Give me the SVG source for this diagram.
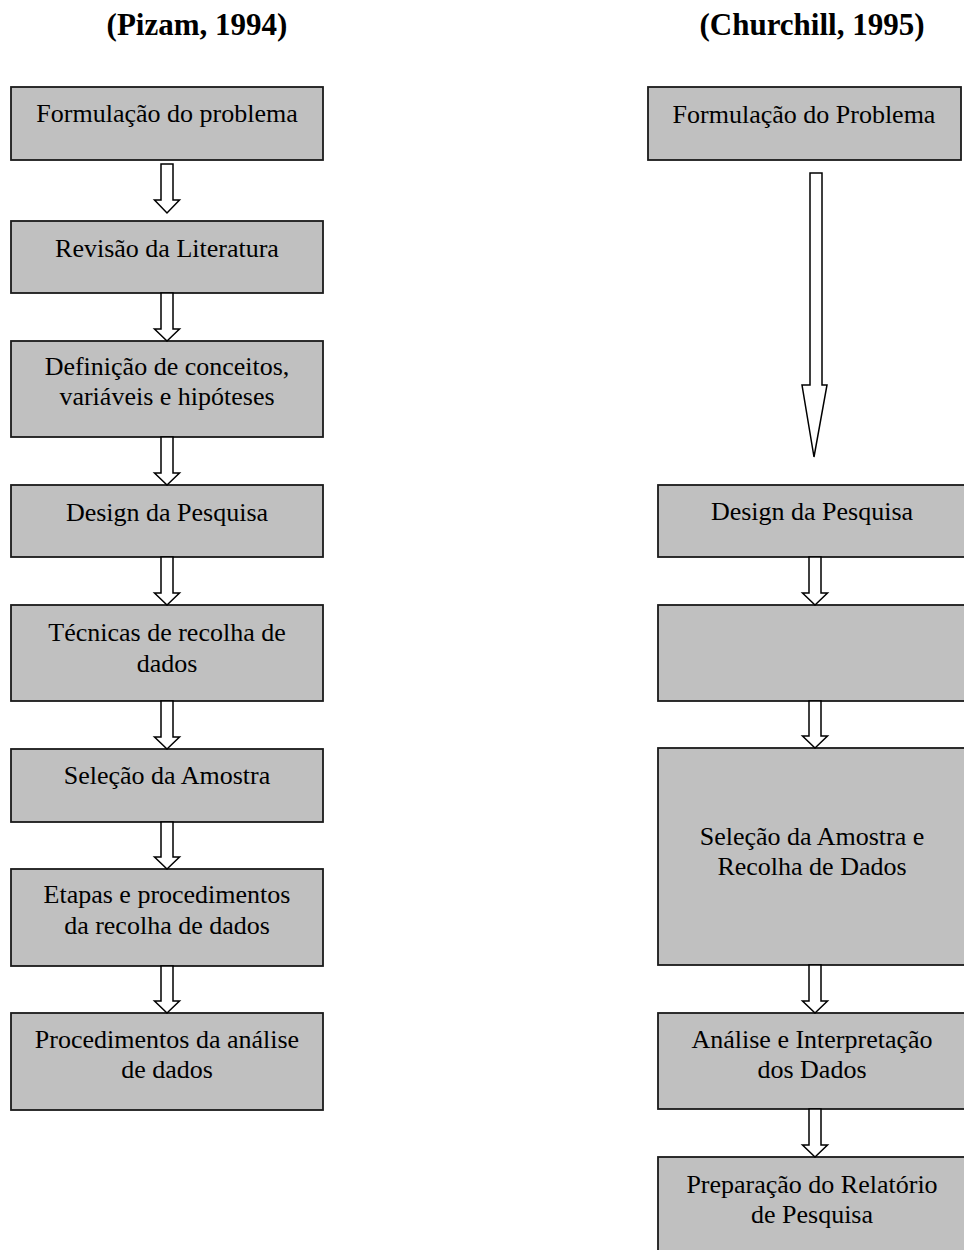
<svg xmlns="http://www.w3.org/2000/svg" width="964" height="1250" viewBox="0 0 964 1250">
<style>
.box{fill:#c0c0c0;stroke:#1a1a1a;stroke-width:1.8}
.t{font-size:26px;fill:#000;text-anchor:middle}
.h{font-size:31px;font-weight:bold;fill:#000;text-anchor:middle}
.arr{fill:#fff;stroke:#000;stroke-width:1.5;stroke-linejoin:miter}
</style>
<rect width="964" height="1250" fill="#fff"/>
<g font-family="'Liberation Serif', 'Times New Roman', 'DejaVu Serif', serif">
<text class="h" x="197" y="35">(Pizam, 1994)</text>
<text class="h" x="812" y="35">(Churchill, 1995)</text>

<g id="L1"><rect class="box" x="11" y="87" width="312" height="73"/><text class="t" x="167" y="122">Formulação do problema</text></g>
<g id="L2"><rect class="box" x="11" y="221" width="312" height="72"/><text class="t" x="167" y="257">Revisão da Literatura</text></g>
<g id="L3"><rect class="box" x="11" y="341" width="312" height="96"/><text class="t" x="167" y="375">Definição de conceitos,</text><text class="t" x="167" y="405">variáveis e hipóteses</text></g>
<g id="L4"><rect class="box" x="11" y="485" width="312" height="72"/><text class="t" x="167" y="521">Design da Pesquisa</text></g>
<g id="L5"><rect class="box" x="11" y="605" width="312" height="96"/><text class="t" x="167" y="641">Técnicas de recolha de</text><text class="t" x="167" y="672">dados</text></g>
<g id="L6"><rect class="box" x="11" y="749" width="312" height="73"/><text class="t" x="167" y="784">Seleção da Amostra</text></g>
<g id="L7"><rect class="box" x="11" y="869" width="312" height="97"/><text class="t" x="167" y="903">Etapas e procedimentos</text><text class="t" x="167" y="934">da recolha de dados</text></g>
<g id="L8"><rect class="box" x="11" y="1013" width="312" height="97"/><text class="t" x="167" y="1048">Procedimentos da análise</text><text class="t" x="167" y="1078">de dados</text></g>

<g id="R1"><rect class="box" x="648" y="87" width="313" height="73"/><text class="t" x="804" y="123">Formulação do Problema</text></g>
<g id="R2"><rect class="box" x="658" y="485" width="310" height="72"/><text class="t" x="812" y="520">Design da Pesquisa</text></g>
<g id="R3"><rect class="box" x="658" y="605" width="310" height="96"/></g>
<g id="R4"><rect class="box" x="658" y="748" width="310" height="217"/><text class="t" x="812" y="845">Seleção da Amostra e</text><text class="t" x="812" y="875">Recolha de Dados</text></g>
<g id="R5"><rect class="box" x="658" y="1013" width="310" height="96"/><text class="t" x="812" y="1048">Análise e Interpretação</text><text class="t" x="812" y="1078">dos Dados</text></g>
<g id="R6"><rect class="box" x="658" y="1157" width="310" height="110"/><text class="t" x="812" y="1193">Preparação do Relatório</text><text class="t" x="812" y="1223">de Pesquisa</text></g>
</g>

<g id="connectors">
<polygon class="arr" points="161,164 173,164 173,200 179.5,200 167,213 154.5,200 161,200"/>
<polygon class="arr" points="161,293 173,293 173,329 179.5,329 167,341 154.5,329 161,329"/>
<polygon class="arr" points="161,437 173,437 173,473 179.5,473 167,485 154.5,473 161,473"/>
<polygon class="arr" points="161,557 173,557 173,593 179.5,593 167,605 154.5,593 161,593"/>
<polygon class="arr" points="161,701 173,701 173,737 179.5,737 167,749 154.5,737 161,737"/>
<polygon class="arr" points="161,822 173,822 173,857 179.5,857 167,869 154.5,857 161,857"/>
<polygon class="arr" points="161,966 173,966 173,1001 179.5,1001 167,1013 154.5,1001 161,1001"/>

<polygon class="arr" points="810,173 822,173 822,385 827,385 814,457 802,385 810,385"/>
<polygon class="arr" points="809,557 821,557 821,593 827.5,593 815,605 802.5,593 809,593"/>
<polygon class="arr" points="809,701 821,701 821,736 827.5,736 815,748 802.5,736 809,736"/>
<polygon class="arr" points="809,965 821,965 821,1001 827.5,1001 815,1013 802.5,1001 809,1001"/>
<polygon class="arr" points="809,1109 821,1109 821,1145 827.5,1145 815,1157 802.5,1145 809,1145"/>
</g>
</svg>
